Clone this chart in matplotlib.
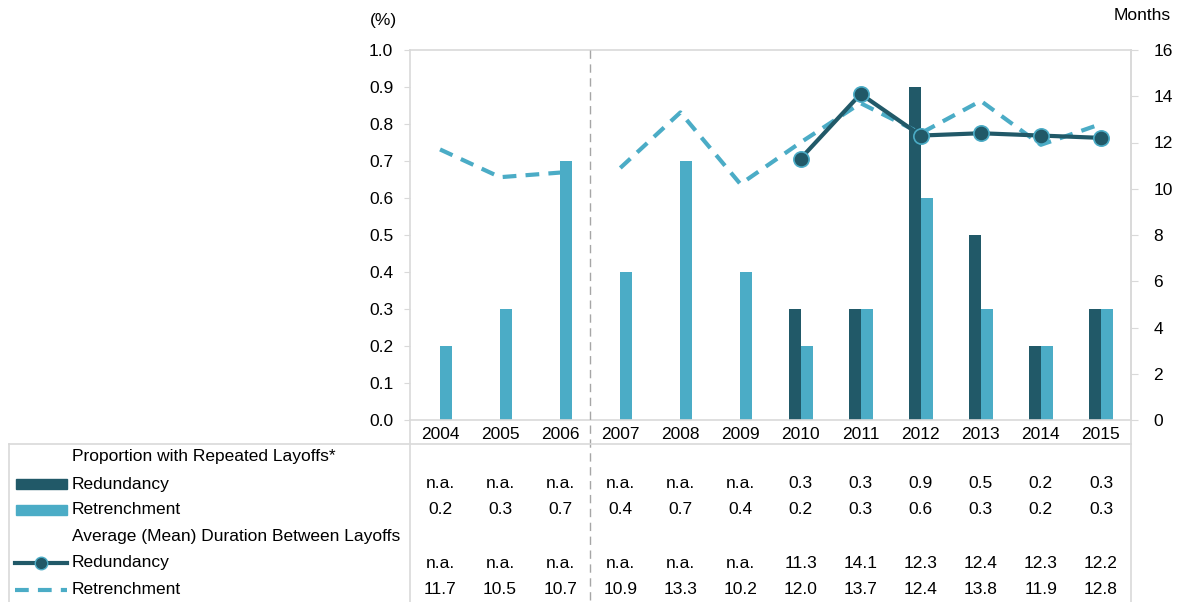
import numpy as np
import matplotlib
matplotlib.use("Agg")
import matplotlib.pyplot as plt
from matplotlib.lines import Line2D
from matplotlib.patches import Rectangle
from matplotlib.transforms import blended_transform_factory

plt.rcParams['font.family'] = ['Liberation Sans', 'DejaVu Sans']
plt.rcParams['font.size'] = 12.5

years = ['2004', '2005', '2006', '2007', '2008', '2009',
         '2010', '2011', '2012', '2013', '2014', '2015']
nan = np.nan
# proportion with repeated layoffs (%)
redund_prop = [nan, nan, nan, nan, nan, nan, 0.3, 0.3, 0.9, 0.5, 0.2, 0.3]
retrench_prop = [0.2, 0.3, 0.7, 0.4, 0.7, 0.4, 0.2, 0.3, 0.6, 0.3, 0.2, 0.3]
# average duration between layoffs (months)
redund_months = [nan, nan, nan, nan, nan, nan, 11.3, 14.1, 12.3, 12.4, 12.3, 12.2]
retrench_months = [11.7, 10.5, 10.7, 10.9, 13.3, 10.2, 12.0, 13.7, 12.4, 13.8, 11.9, 12.8]
series_break = 3  # survey change between 2006 and 2007

dark = '#215968'
light = '#4bacc6'
grid_col = '#d9d9d9'

W, H = 1180, 602
fig = plt.figure(figsize=(W / 100, H / 100), dpi=100)

def fx(px):
    return px / W

def fy(py):
    return 1 - py / H

ax = fig.add_axes([fx(410), fy(420), fx(1131) - fx(410), fy(50) - fy(420)])
x = np.arange(len(years))
bw = 0.2
ax.bar(x - bw / 2, redund_prop, bw, color=dark, zorder=2)
ax.bar(x + bw / 2, retrench_prop, bw, color=light, zorder=2)
ax.set_xlim(-0.5, len(years) - 0.5)
ax.set_ylim(0, 1.0)
ax.set_yticks(np.arange(0, 1.01, 0.1))
ax.set_yticklabels([f'{v:.1f}' for v in np.arange(0, 1.01, 0.1)])
ax.set_xticks(x)
ax.set_xticklabels(years)
ax.tick_params(axis='y', length=4, color=grid_col, pad=8)
ax.tick_params(axis='x', length=0, pad=5)
for s in ax.spines.values():
    s.set_color(grid_col)
    s.set_linewidth(1.2)

ax2 = ax.twinx()
ax2.set_ylim(0, 16)
ax2.set_yticks(range(0, 17, 2))
ax2.tick_params(axis='y', length=5, color=grid_col, pad=11)
for s in ax2.spines.values():
    s.set_visible(False)
ax2.spines['right'].set_visible(True)
ax2.spines['right'].set_color(grid_col)
ax2.spines['right'].set_linewidth(1.2)

dash = (0, (3.3, 2.2))
ax2.plot(x[:series_break], retrench_months[:series_break], color=light, lw=3,
         linestyle=dash, zorder=3)
ax2.plot(x[series_break:], retrench_months[series_break:], color=light, lw=3,
         linestyle=dash, zorder=3)
ax2.plot(x, redund_months, color=dark, lw=3, marker='o', ms=11,
         markerfacecolor=dark, markeredgecolor=light, markeredgewidth=1.2, zorder=4)

fig.text(fx(383), fy(20), '(%)', ha='center', va='center')
fig.text(fx(1171), fy(16), 'Months', ha='right', va='center')

# dashed separator running through chart and table
tr = blended_transform_factory(ax.transData, fig.transFigure)
fig.add_artist(Line2D([series_break - 0.5] * 2, [fy(50), 0], transform=tr,
                      color='#a6a6a6', lw=1, linestyle=(0, (6, 4))))

# data table outline
fig.add_artist(Line2D([fx(9), fx(1131)], [fy(444), fy(444)], color=grid_col, lw=1.2))
fig.add_artist(Line2D([fx(9), fx(9)], [fy(444), 0], color=grid_col, lw=1.2))
fig.add_artist(Line2D([fx(410), fx(410)], [fy(420), 0], color=grid_col, lw=1.2))
fig.add_artist(Line2D([fx(1131), fx(1131)], [fy(420), 0], color=grid_col, lw=1.2))

rows = [
    ('Proportion with Repeated Layoffs*', None, None),
    ('Redundancy', 'bar_dark', redund_prop),
    ('Retrenchment', 'bar_light', retrench_prop),
    ('Average (Mean) Duration Between Layoffs', None, None),
    ('Redundancy', 'line_marker', redund_months),
    ('Retrenchment', 'line_dash', retrench_months),
]
row_y = [456, 484, 510, 537, 563, 590]

for (label, key, vals), py in zip(rows, row_y):
    y = fy(py)
    fig.text(fx(72), y, label, ha='left', va='center')
    if key in ('bar_dark', 'bar_light'):
        fig.add_artist(Rectangle((fx(16), fy(py + 5)), fx(51), fy(py - 5) - fy(py + 5),
                                 color=dark if key == 'bar_dark' else light,
                                 transform=fig.transFigure))
    elif key == 'line_marker':
        fig.add_artist(Line2D([fx(15), fx(67)], [y, y], color=dark, lw=3))
        fig.add_artist(Line2D([fx(41)], [y], marker='o', ms=9, color=dark,
                              markeredgecolor=light, markeredgewidth=1))
    elif key == 'line_dash':
        fig.add_artist(Line2D([fx(15), fx(67)], [y, y], color=light, lw=3,
                              linestyle=dash))
    if vals is not None:
        for xi, v in zip(x, vals):
            txt = 'n.a.' if np.isnan(v) else f'{v:.1f}'
            ax.text(xi, y, txt, transform=tr, ha='center', va='center', clip_on=False)

fig.savefig('out.png', dpi=100)
